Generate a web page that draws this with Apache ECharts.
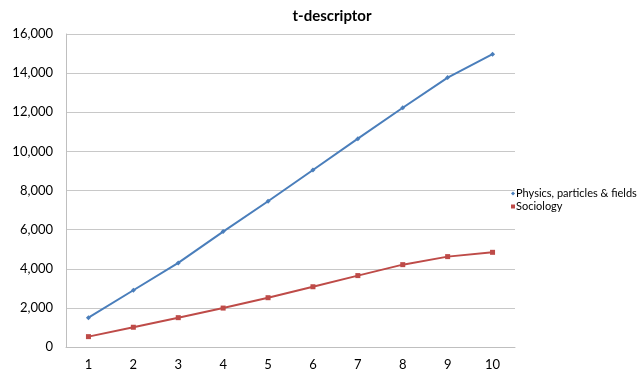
<!DOCTYPE html>
<html>
<head>
<meta charset="utf-8">
<script src="https://cdn.jsdelivr.net/npm/echarts@6/dist/echarts.min.js"></script>
<style>
html,body{margin:0;padding:0;background:#fff;}
#c{width:641px;height:377px;}
</style>
</head>
<body>
<div id="c"></div>
<script>
var titleText = 't-descriptor';
var categories = ['1','2','3','4','5','6','7','8','9','10'];
var physicsName = 'Physics, particles & fields';
var physicsValues = [1500, 2900, 4300, 5900, 7450, 9050, 10650, 12230, 13770, 14970];
var sociologyName = 'Sociology';
var sociologyValues = [530, 1010, 1500, 1990, 2520, 3080, 3650, 4210, 4620, 4840];

var chart = echarts.init(document.getElementById('c'));
var font = 'Lato, "Open Sans", "DejaVu Sans", sans-serif';
chart.setOption({
  animation: false,
  backgroundColor: '#ffffff',
  title: {
    text: titleText,
    left: 327,
    textAlign: 'center',
    top: 4,
    textStyle: {fontFamily: font, fontSize: 15, fontWeight: 'bold', color: '#000'}
  },
  legend: {
    orient: 'vertical',
    left: 511,
    top: 188,
    padding: 0,
    itemWidth: 4,
    itemHeight: 4,
    itemGap: 2,
    textStyle: {fontFamily: font, fontSize: 11, color: '#000', padding: [0,0,0,-4]},
    data: [
      {name: physicsName, icon: 'diamond'},
      {name: sociologyName, icon: 'rect'}
    ]
  },
  grid: {left: 66, right: 126, top: 34, bottom: 30, containLabel: false},
  xAxis: {
    type: 'category',
    data: categories,
    boundaryGap: true,
    axisLine: {lineStyle: {color: '#bfbfbf', width: 1}},
    axisTick: {show: false},
    axisLabel: {fontFamily: font, fontSize: 13, color: '#000', margin: 11}
  },
  yAxis: {
    type: 'value',
    min: 0,
    max: 16000,
    interval: 2000,
    axisLine: {show: true, lineStyle: {color: '#bfbfbf', width: 1}},
    axisTick: {show: false},
    splitLine: {lineStyle: {color: '#c8c8c8', width: 1}},
    axisLabel: {
      fontFamily: font, fontSize: 13, color: '#000', margin: 13,
      formatter: function (v) { return v.toLocaleString('en-US'); }
    }
  },
  series: [
    {
      name: physicsName,
      type: 'line',
      data: physicsValues,
      color: '#4a7ebb',
      lineStyle: {width: 2, color: '#4a7ebb'},
      symbol: 'diamond',
      symbolSize: 5,
      itemStyle: {color: '#4a7ebb'}
    },
    {
      name: sociologyName,
      type: 'line',
      data: sociologyValues,
      color: '#be4b48',
      lineStyle: {width: 2, color: '#be4b48'},
      symbol: 'rect',
      symbolSize: 5,
      itemStyle: {color: '#be4b48'}
    }
  ]
});
</script>
</body>
</html>
